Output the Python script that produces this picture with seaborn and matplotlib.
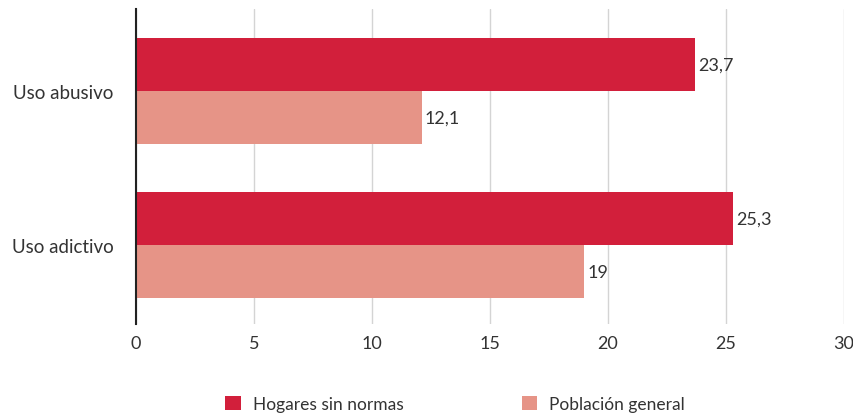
import matplotlib.pyplot as plt
import seaborn as sns
import pandas as pd
from matplotlib.patches import Patch

# data
categories = ["Uso abusivo", "Uso adictivo"]
series = ["Hogares sin normas", "Población general"]
hogares = [23.7, 25.3]
poblacion = [12.1, 19]
colors = ["#D21F3B", "#E69487"]
x_ticks = [0, 5, 10, 15, 20, 25, 30]

df = pd.DataFrame({
    "categoria": categories * 2,
    "serie": [series[0]] * 2 + [series[1]] * 2,
    "valor": hogares + poblacion,
})

sns.set_style("white")
plt.rcParams["font.family"] = ["Lato", "DejaVu Sans"]
text_color = "#333333"

fig = plt.figure(figsize=(8.54, 4.14), dpi=100)
ax = fig.add_axes([0.1593, 0.215, 0.829, 0.7608])

sns.barplot(
    data=df, y="categoria", x="valor", hue="serie",
    order=categories, hue_order=series, palette=colors,
    width=0.69, saturation=1, linewidth=0, legend=False, ax=ax, zorder=2,
)

# value labels with comma decimal
for cont in ax.containers:
    labels = [f"{b.get_width():g}".replace(".", ",") for b in cont]
    ax.bar_label(cont, labels=labels, padding=2, fontsize=13, color=text_color)

ax.set_xlim(0, 30)
ax.set_ylim(1.513, -0.532)
ax.set_xticks(x_ticks)
ax.set_xlabel("")
ax.set_ylabel("")
ax.grid(axis="x", color="#d4d4d4", linewidth=1, zorder=0)
ax.grid(axis="y", visible=False)

for s in ["top", "right", "bottom"]:
    ax.spines[s].set_visible(False)
ax.spines["left"].set_color("#222222")
ax.spines["left"].set_linewidth(1.5)

ax.tick_params(axis="x", length=0, pad=8, labelsize=13, labelcolor=text_color)
ax.tick_params(axis="y", length=0, pad=16, labelsize=13.5, labelcolor=text_color)

handles = [Patch(facecolor=c, edgecolor="none") for c in colors]
fig.legend(
    handles, series, loc="center", bbox_to_anchor=(0.533, 0.022),
    ncol=2, frameon=False, fontsize=12.5, handlelength=0.9, handleheight=0.9,
    handletextpad=0.7, columnspacing=6.8, labelcolor=text_color,
    borderpad=0, borderaxespad=0,
)

fig.savefig("out.png", dpi=100)
